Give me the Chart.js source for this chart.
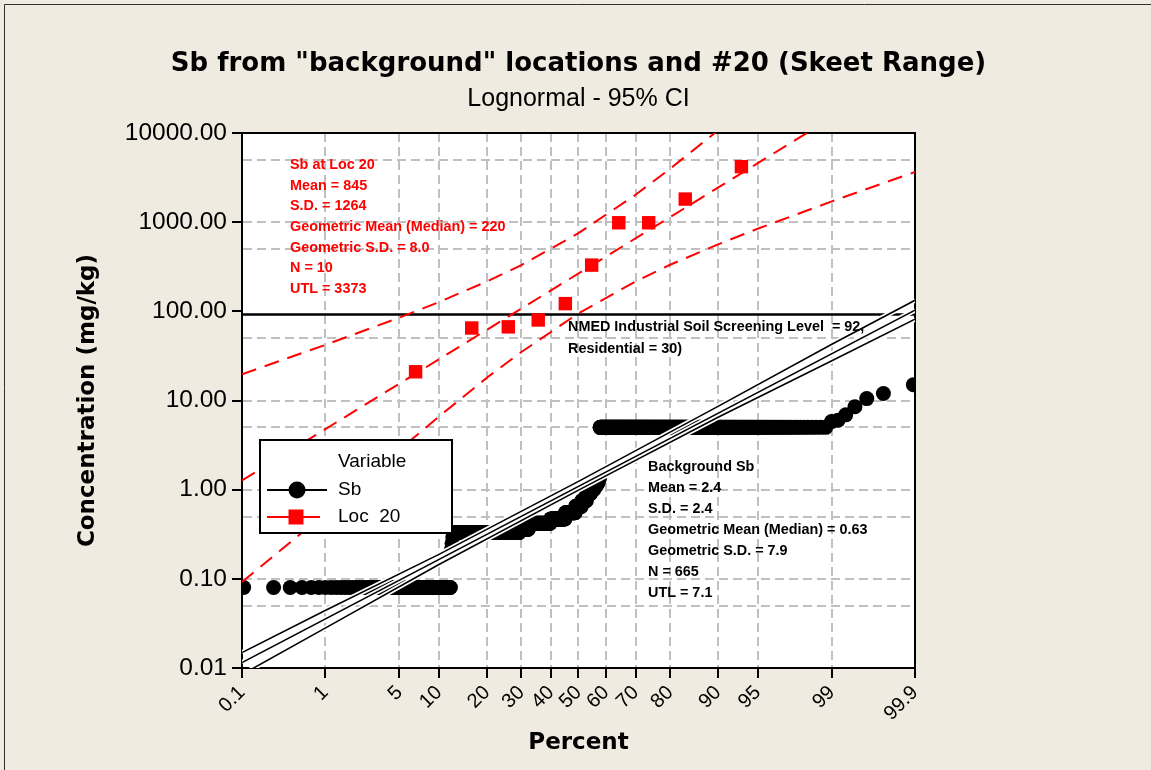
<!DOCTYPE html>
<html>
<head>
<meta charset="utf-8">
<title>Sb probability plot</title>
<script src="https://cdn.jsdelivr.net/npm/chart.js@4.4.1/dist/chart.umd.min.js"></script>
<style>
  html, body { margin: 0; padding: 0; background: #EFEBE0; }
  #wrap { width: 1151px; height: 770px; }
  canvas { display: block; }
</style>
</head>
<body>
<div id="wrap"><canvas id="plot" width="1151" height="770"></canvas></div>
<script>
// ---------------- data ----------------
const xTickPercents = [0.1, 1, 5, 10, 20, 30, 40, 50, 60, 70, 80, 90, 95, 99, 99.9];
const yTickValues = [0.01, 0.05, 0.1, 0.5, 1, 5, 10, 50, 100, 500, 1000, 5000, 10000];
const yLabelValues = [0.01, 0.1, 1, 10, 100, 1000, 10000];

// Background Sb results (mg/kg), sorted, stored as concentration + number of samples
const sbLevels = [0.08, 0.21, 0.25, 0.29, 0.33, 0.36, 0.42, 0.47, 0.55, 0.65, 0.75, 0.9, 1.0, 1.1, 1.2, 1.35,
                  5.0, 5.8, 6.0, 6.9, 8.5, 10.5, 12, 15];
const sbCounts = [80, 1, 1, 1, 112, 20, 50, 35, 25, 15, 12, 10, 8, 6, 5, 3,
                  274, 1, 1, 1, 1, 1, 1, 1];

// Location 20 results (mg/kg), sorted
const loc20Values = [21, 65, 67, 80, 122, 330, 985, 985, 1815, 4190];

// Lognormal fit and 95% confidence bands (percent, mg/kg)
const sbFitPercent = [0.1, 99.9];
const sbFitValue = [0.0115, 103];
const sbBandPercent = [0.1, 1, 10, 50, 90, 99, 99.9];
const sbUpperValue = [0.0149, 0.0442, 0.188, 1.24, 8.6, 42.8, 133];
const sbLowerValue = [0.00846, 0.028, 0.145, 0.988, 6.48, 27.9, 81.7];

const locFitPercent = [0.1, 98.2];
const locFitValue = [1.27, 10000];
const locUpperPercent = [0.1, 1, 5, 10, 20, 30, 50, 70, 80, 90];
const locUpperValue = [19.7, 42, 85, 127, 216, 330, 753, 2030, 3970, 10700];
const locLowerPercent = [0.1, 1, 5, 10, 20, 30, 50, 70, 80, 90, 95, 99, 99.9];
const locLowerValue = [0.092, 0.54, 2.8, 6.6, 18, 35, 95, 216, 333, 563, 843, 1710, 3650];

// NMED industrial soil screening level (mg/kg)
const screeningPercent = [0.1, 99.9];
const screeningLevel = 92;

const titleText = 'Sb from "background" locations and #20 (Skeet Range)';
const subtitleText = 'Lognormal - 95% CI';
const locNotes = ['Sb at Loc 20', 'Mean = 845', 'S.D. = 1264', 'Geometric Mean (Median) = 220',
                  'Geometric S.D. = 8.0', 'N = 10', 'UTL = 3373'];
const sbNotes = ['Background Sb', 'Mean = 2.4', 'S.D. = 2.4', 'Geometric Mean (Median) = 0.63',
                 'Geometric S.D. = 7.9', 'N = 665', 'UTL = 7.1'];
const screeningNotes = ['NMED Industrial Soil Screening Level  = 92,', 'Residential = 30)'];

// ---------------- helpers ----------------
const RED = '#FF0000';
const BLACK = '#000000';
const GRID = '#C0C0C0';
const REGULAR = '"Liberation Sans", Arial, sans-serif';
const BOLD = '"DejaVu Sans", Verdana, sans-serif';

// inverse standard normal CDF (Acklam)
function probit(p) {
  const a = [-39.69683028665376, 220.9460984245205, -275.9285104469687, 138.3577518672690, -30.66479806614716, 2.506628277459239];
  const b = [-54.47609879822406, 161.5858368580409, -155.6989798598866, 66.80131188771972, -13.28068155288572];
  const c = [-0.007784894002430293, -0.3223964580411365, -2.400758277161838, -2.549732539343734, 4.374664141464968, 2.938163982698783];
  const d = [0.007784695709041462, 0.3224671290700398, 2.445134137142996, 3.754408661907416];
  const pl = 0.02425;
  let q, r;
  if (p < pl) {
    q = Math.sqrt(-2 * Math.log(p));
    return (((((c[0]*q+c[1])*q+c[2])*q+c[3])*q+c[4])*q+c[5]) / ((((d[0]*q+d[1])*q+d[2])*q+d[3])*q+1);
  }
  if (p <= 1 - pl) {
    q = p - 0.5; r = q * q;
    return (((((a[0]*r+a[1])*r+a[2])*r+a[3])*r+a[4])*r+a[5])*q / (((((b[0]*r+b[1])*r+b[2])*r+b[3])*r+b[4])*r+1);
  }
  q = Math.sqrt(-2 * Math.log(1 - p));
  return -(((((c[0]*q+c[1])*q+c[2])*q+c[3])*q+c[4])*q+c[5]) / ((((d[0]*q+d[1])*q+d[2])*q+d[3])*q+1);
}
function normcdf(z) {
  const t = 1 / (1 + 0.3275911 * Math.abs(z) / Math.SQRT2);
  const y = 1 - (((((1.061405429*t - 1.453152027)*t) + 1.421413741)*t - 0.284496736)*t + 0.254829592)*t * Math.exp(-z*z/2);
  return z >= 0 ? 0.5 * (1 + y) : 0.5 * (1 - y);
}

// normal-probability axis: values are percents, positions follow the normal quantile
class ProbabilityScale extends Chart.LinearScale {
  buildTicks() { return xTickPercents.map(v => ({ value: v })); }
  configure() {
    super.configure();
    this._z0 = probit(this.min / 100);
    this._zr = probit(this.max / 100) - this._z0;
  }
  getPixelForValue(value) {
    if (value === null || value === undefined || isNaN(value)) return NaN;
    return this.getPixelForDecimal((probit(value / 100) - this._z0) / this._zr);
  }
  getValueForPixel(pixel) {
    return 100 * normcdf(this._z0 + this.getDecimalForPixel(pixel) * this._zr);
  }
}
ProbabilityScale.id = 'probability';
ProbabilityScale.defaults = {};
Chart.register(ProbabilityScale);

// median-rank plotting positions (i - 0.3) / (n + 0.4)
const rankPercent = (i, n) => 100 * (i - 0.3) / (n + 0.4);
const pairs = (xs, ys) => xs.map((x, i) => ({ x: x, y: ys[i] }));

const sbSorted = [];
sbLevels.forEach((v, k) => { for (let j = 0; j < sbCounts[k]; j++) sbSorted.push(v); });
const sbPoints = sbSorted.map((v, i) => ({ x: rankPercent(i + 1, sbSorted.length), y: v }));
const locPoints = loc20Values.map((v, i) => ({ x: rankPercent(i + 1, loc20Values.length), y: v }));

const sbFit = pairs(sbFitPercent, sbFitValue);
const sbUpper = pairs(sbBandPercent, sbUpperValue);
const sbLower = pairs(sbBandPercent, sbLowerValue);
const screeningLine = screeningPercent.map(p => ({ x: p, y: screeningLevel }));

function lineSet(data, color, width, dash, order) {
  return { data: data, showLine: true, borderColor: color, borderWidth: width, borderDash: dash,
           pointRadius: 0, pointHoverRadius: 0, fill: false, tension: 0, order: order };
}

// ---------------- drawing plugins ----------------
const pagePlugin = {
  id: 'page',
  beforeDraw(chart) {
    const { ctx, chartArea: a } = chart;
    ctx.save();
    ctx.fillStyle = '#EFEBE0';
    ctx.fillRect(0, 0, chart.width, chart.height);
    ctx.strokeStyle = '#303030';
    ctx.lineWidth = 1;
    ctx.beginPath();
    ctx.moveTo(4.5, chart.height); ctx.lineTo(4.5, 4.5); ctx.lineTo(chart.width, 4.5);
    ctx.stroke();
    ctx.fillStyle = '#FFFFFF';
    ctx.fillRect(a.left, a.top, a.right - a.left, a.bottom - a.top);
    // titles
    const cx = (a.left + a.right) / 2;
    ctx.fillStyle = BLACK;
    ctx.textAlign = 'center';
    ctx.textBaseline = 'alphabetic';
    ctx.font = 'bold 26px ' + BOLD;
    ctx.fillText(titleText, cx, 71);
    ctx.font = '25px ' + REGULAR;
    ctx.fillText(subtitleText, cx, 106);
    ctx.restore();
  },
  beforeDatasetsDraw(chart) {
    const { ctx, chartArea: a } = chart;
    ctx.save();
    ctx.strokeStyle = BLACK;
    ctx.lineWidth = 2;
    ctx.strokeRect(a.left, a.top, a.right - a.left, a.bottom - a.top);
    ctx.restore();
  },
  afterDatasetsDraw(chart) {
    const { ctx } = chart;
    ctx.save();
    ctx.textAlign = 'left';
    ctx.textBaseline = 'middle';
    ctx.font = 'bold 14.4px ' + REGULAR;
    ctx.fillStyle = RED;
    locNotes.forEach((t, i) => ctx.fillText(t, 290, 165 + i * 20.7));
    ctx.fillStyle = BLACK;
    sbNotes.forEach((t, i) => ctx.fillText(t, 648, 467 + i * 21));
    screeningNotes.forEach((t, i) => ctx.fillText(t, 568, 327 + i * 22));

    // legend
    const bx = 260, by = 440, bw = 192, bh = 93;
    ctx.fillStyle = '#FFFFFF';
    ctx.fillRect(bx, by, bw, bh);
    ctx.strokeStyle = BLACK;
    ctx.lineWidth = 2;
    ctx.strokeRect(bx, by, bw, bh);
    ctx.font = '19px ' + REGULAR;
    ctx.fillStyle = BLACK;
    ctx.fillText('Variable', 338, 462);
    ctx.fillText('Sb', 338, 490);
    ctx.fillText('Loc  20', 338, 517);
    ctx.lineWidth = 2;
    ctx.beginPath(); ctx.moveTo(267, 490); ctx.lineTo(327, 490); ctx.stroke();
    ctx.beginPath(); ctx.arc(297, 490, 8.5, 0, Math.PI * 2); ctx.fill();
    ctx.strokeStyle = RED; ctx.fillStyle = RED;
    ctx.beginPath(); ctx.moveTo(267, 517); ctx.lineTo(320, 517); ctx.stroke();
    ctx.fillRect(296 - 7.5, 517 - 7.5, 15, 15);
    ctx.restore();
  }
};

// ---------------- chart ----------------
new Chart(document.getElementById('plot'), {
  type: 'scatter',
  data: {
    datasets: [
      { label: 'Loc  20', data: locPoints, pointStyle: 'rect', pointRadius: 9.5, pointHoverRadius: 9.5,
        backgroundColor: RED, borderColor: RED, borderWidth: 0, showLine: false, order: 0 },
      lineSet(pairs(locFitPercent, locFitValue), RED, 2, [15, 9], 1),
      lineSet(pairs(locUpperPercent, locUpperValue), RED, 2, [15, 9], 1),
      lineSet(pairs(locLowerPercent, locLowerValue), RED, 2, [15, 9], 1),
      lineSet(sbFit, BLACK, 1.6, [], 2),
      lineSet(sbUpper, BLACK, 1.6, [], 2),
      lineSet(sbLower, BLACK, 1.6, [], 2),
      lineSet(sbFit, '#FFFFFF', 5, [], 3),
      lineSet(sbUpper, '#FFFFFF', 5, [], 3),
      lineSet(sbLower, '#FFFFFF', 5, [], 3),
      { label: 'Sb', data: sbPoints, pointStyle: 'circle', pointRadius: 7.5, pointHoverRadius: 7.5,
        backgroundColor: BLACK, borderColor: BLACK, borderWidth: 0, showLine: false, order: 4 },
      lineSet(screeningLine, BLACK, 2.5, [], 5)
    ]
  },
  options: {
    responsive: false,
    animation: false,
    devicePixelRatio: 1,
    events: [],
    layout: { padding: { left: 70, top: 133, right: 236, bottom: 10 } },
    plugins: { legend: { display: false }, tooltip: { enabled: false } },
    scales: {
      x: {
        type: 'probability',
        position: 'bottom',
        min: 0.1,
        max: 99.9,
        afterFit: s => { s.height = 92; },
        grid: { color: GRID, lineWidth: 2, tickLength: 10, tickColor: BLACK, tickWidth: 2, tickBorderDash: [] },
        border: { color: BLACK, width: 2, dash: [9, 5] },
        ticks: { autoSkip: false, maxRotation: 45, minRotation: 45, padding: 3, color: BLACK,
                 font: { family: REGULAR, size: 20 }, callback: v => String(v) },
        title: { display: true, text: 'Percent', color: BLACK,
                 font: { family: BOLD, size: 23, weight: 'bold' }, padding: { top: 0, bottom: 3 } }
      },
      y: {
        type: 'logarithmic',
        position: 'left',
        min: 0.01,
        max: 10000,
        afterBuildTicks: s => { s.ticks = yTickValues.map(v => ({ value: v })); },
        afterFit: s => { s.width = 172; },
        grid: {
          color: c => (c.tick && c.tick.value === 100) ? 'rgba(0,0,0,0)' : GRID,
          lineWidth: 2, tickLength: 10, tickWidth: 2, tickBorderDash: [],
          tickColor: c => (c.tick && yLabelValues.includes(c.tick.value)) ? BLACK : 'rgba(0,0,0,0)'
        },
        border: { color: BLACK, width: 2, dash: [9, 5] },
        ticks: { autoSkip: false, padding: 5, color: BLACK, font: { family: REGULAR, size: 24.5 },
                 callback: v => yLabelValues.includes(v) ? v.toFixed(2) : '' },
        title: { display: true, text: 'Concentration (mg/kg)', color: BLACK,
                 font: { family: BOLD, size: 23, weight: 'bold' }, padding: { top: 4, bottom: 0 } }
      }
    }
  },
  plugins: [pagePlugin]
});
</script>
</body>
</html>
